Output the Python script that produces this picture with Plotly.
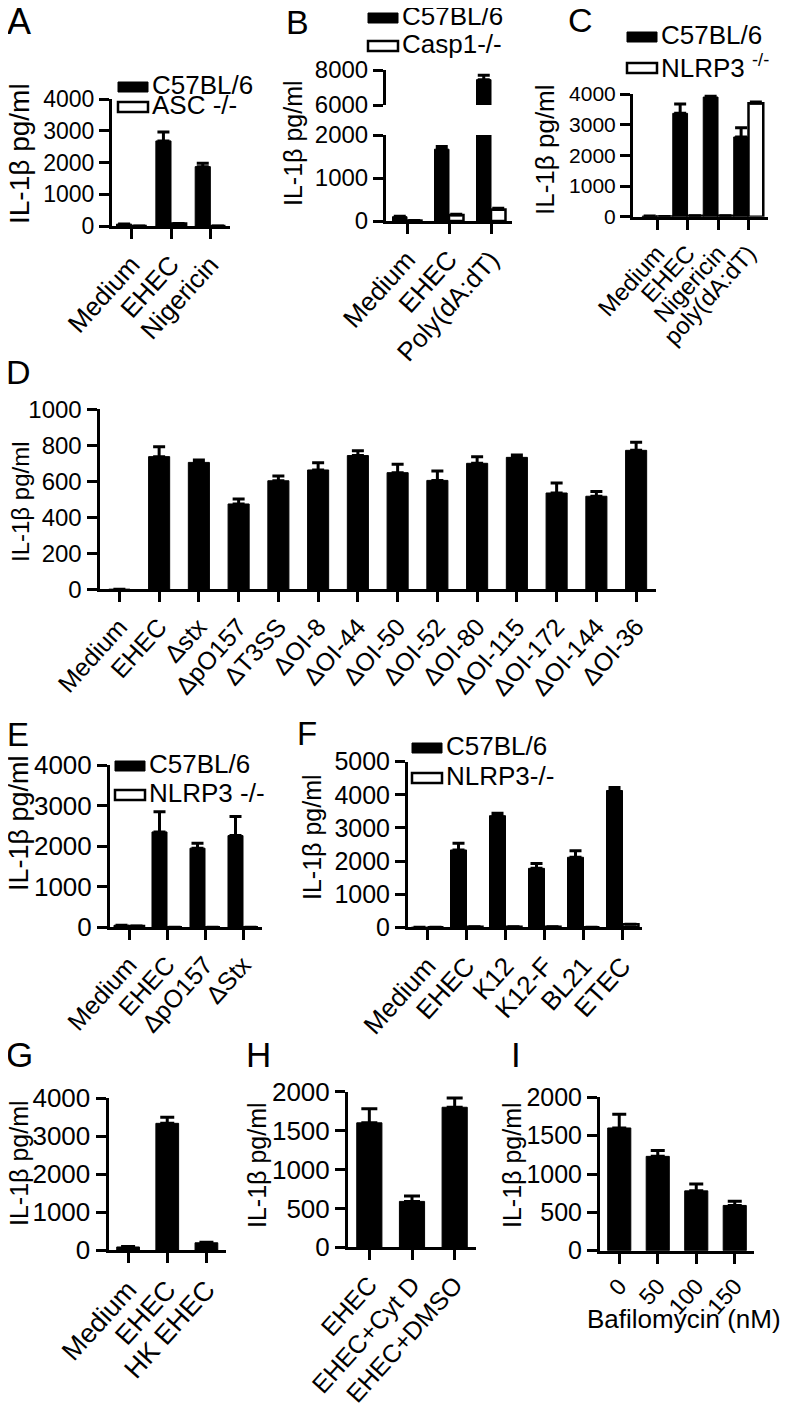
import plotly.graph_objects as go

# page body has an 8px margin: size and place the figure so that
# reference pixel (x, y) lands on page pixel (x, y)
OFF = 8
W, H = 796 - OFF, 1406 - OFF
FONT = "Liberation Sans, Arial, Helvetica, sans-serif"

# ---------------- data ----------------
A_cats = ["Medium", "EHEC", "Nigericin"]
A_wt = [60, 2680, 1870]
A_wt_err = [0, 280, 110]
A_ko = [0, 80, 0]
A_ko_err = [0, 0, 0]

B_cats = ["Medium", "EHEC", "Poly(dA:dT)"]
B_wt = [100, 1670, 7450]
B_wt_err = [10, 60, 250]
B_ko = [10, 140, 270]
B_ko_err = [0, 15, 25]

C_cats = ["Medium", "EHEC", "Nigericin", "poly(dA:dT)"]
C_wt = [20, 3370, 3900, 2600]
C_wt_err = [0, 300, 30, 300]
C_ko = [10, 30, 30, 3700]
C_ko_err = [0, 0, 0, 40]

D_cats = ["Medium", "EHEC", "Δstx", "ΔpO157", "ΔT3SS", "ΔOI-8", "ΔOI-44",
          "ΔOI-50", "ΔOI-52", "ΔOI-80", "ΔOI-115", "ΔOI-172", "ΔOI-144", "ΔOI-36"]
D_vals = [0, 737, 705, 474, 603, 663, 743, 648, 605, 700, 733, 535, 517, 772]
D_err = [0, 55, 13, 28, 27, 40, 27, 47, 52, 37, 13, 55, 26, 45]

E_cats = ["Medium", "EHEC", "ΔpO157", "ΔStx"]
E_wt = [50, 2350, 1950, 2260]
E_wt_err = [0, 500, 120, 470]
E_ko = [30, 0, 0, 0]
E_ko_err = [0, 0, 0, 0]

F_cats = ["Medium", "EHEC", "K12", "K12-F", "BL21", "ETEC"]
F_wt = [0, 2335, 3370, 1780, 2115, 4130]
F_wt_err = [0, 200, 70, 150, 200, 90]
F_ko = [0, 15, 20, 20, 0, 90]
F_ko_err = [0, 0, 0, 0, 0, 0]

G_cats = ["Medium", "EHEC", "HK EHEC"]
G_vals = [80, 3340, 190]
G_err = [10, 160, 15]

H_cats = ["EHEC", "EHEC+Cyt D", "EHEC+DMSO"]
H_vals = [1600, 590, 1800]
H_err = [180, 70, 120]

I_cats = ["0", "50", "100", "150"]
I_vals = [1600, 1230, 780, 590]
I_err = [180, 75, 90, 55]

YLABEL = "IL-1β pg/ml"

# ---------------- helpers ----------------
def fx(x):
    return (x - OFF) / W


def fy(y):
    return 1 - (y - OFF) / H


fig = go.Figure()
layout = dict(
    width=W, height=H, margin=dict(l=0, r=0, t=0, b=0, autoexpand=False),
    autosize=False,
    paper_bgcolor="white", plot_bgcolor="white",
    showlegend=False, barmode="overlay",
    font=dict(family=FONT, color="black"),
    shapes=[], annotations=[],
)

ANGLE = -48


def base_axis():
    return dict(showline=True, linewidth=3, linecolor="black", mirror=False,
                ticks="outside", ticklen=10, tickwidth=3, tickcolor="black",
                showgrid=False, zeroline=False, fixedrange=True, automargin=False)


def add_axes(n, xdom, ydom, xrange, yrange, cats, yticks, xfont, yfont,
             xvisible=True, tickangle=ANGLE):
    xname = "xaxis" if n == 1 else f"xaxis{n}"
    yname = "yaxis" if n == 1 else f"yaxis{n}"
    xa = base_axis()
    xa.update(domain=[fx(xdom[0]), fx(xdom[1])], range=xrange,
              anchor=f"y{n}" if n > 1 else "y",
              tickmode="array", tickvals=list(range(len(cats))), ticktext=cats,
              tickangle=tickangle, tickfont=dict(size=xfont, family=FONT, color="black"))
    if not xvisible:
        xa = dict(domain=[fx(xdom[0]), fx(xdom[1])], range=xrange, visible=False,
                  anchor=f"y{n}", fixedrange=True, automargin=False)
    ya = base_axis()
    ya.update(domain=[fy(ydom[1]), fy(ydom[0])], range=yrange,
              anchor=f"x{n}" if n > 1 else "x",
              tickmode="array", tickvals=yticks, ticktext=[str(t) for t in yticks],
              tickfont=dict(size=yfont, family=FONT, color="black"))
    layout[xname] = xa
    layout[yname] = ya


def err(arr, cap):
    return dict(type="data", array=arr, arrayminus=[0] * len(arr), symmetric=False,
                color="black", thickness=3, width=cap)


def add_pair(n, cats, wt, wt_err, ko, ko_err, w, cap=6, ko_trace=True):
    ax = "x" if n == 1 else f"x{n}"
    ay = "y" if n == 1 else f"y{n}"
    pos = list(range(len(cats)))
    fig.add_trace(go.Bar(
        x=[p - w / 2 for p in pos], y=wt, width=w, xaxis=ax, yaxis=ay,
        marker=dict(color="black", line=dict(color="black", width=1)),
        error_y=err(wt_err, cap), name="C57BL/6", hovertext=cats))
    if ko_trace:
        fig.add_trace(go.Bar(
            x=[p + w / 2 for p in pos], y=ko, width=w, xaxis=ax, yaxis=ay,
            marker=dict(color="white", line=dict(color="black", width=2.5)),
            error_y=err(ko_err, cap), name="KO", hovertext=cats))


def add_single(n, cats, vals, errs, w, cap=7):
    ax = f"x{n}"
    ay = f"y{n}"
    fig.add_trace(go.Bar(
        x=list(range(len(cats))), y=vals, width=w, xaxis=ax, yaxis=ay,
        marker=dict(color="black", line=dict(color="black", width=1)),
        error_y=err(errs, cap), hovertext=cats))


def text(x, y, s, size, anchor="left", angle=0):
    dy = 0 if angle else 0.06 * size
    layout["annotations"].append(dict(
        x=fx(x), y=fy(y - dy), xref="paper", yref="paper", text=s, showarrow=False,
        xanchor=anchor, yanchor="middle", textangle=angle,
        font=dict(size=size, family=FONT, color="black")))


def swatch(x0, x1, y0, y1, filled):
    layout["shapes"].append(dict(
        type="rect", xref="paper", yref="paper",
        x0=fx(x0), x1=fx(x1), y0=fy(y1), y1=fy(y0),
        fillcolor="black" if filled else "white",
        line=dict(color="black", width=1 if filled else 2.5)))


def legend(x0, y_top, y_bot, label1, label2, size=26):
    swatch(x0, x0 + 30, y_top - 5, y_top + 5, True)
    swatch(x0, x0 + 30, y_bot - 5, y_bot + 5, False)
    text(x0 + 32, y_top, label1, size)
    text(x0 + 32, y_bot, label2, size)


# ---------------- panel A ----------------
add_axes(1, (112, 230), (99, 226), [-0.5, 2.5], [0, 4000], A_cats,
         [0, 1000, 2000, 3000, 4000], 26, 23)
add_pair(1, A_cats, A_wt, A_wt_err, A_ko, A_ko_err, 0.385)
legend(118, 87, 107, "C57BL/6", "ASC -/-")
text(19, 24, "A", 36, "center")
text(19, 154, YLABEL, 28, "center", -90)

# ---------------- panel B (broken axis) ----------------
add_axes(2, (386, 512), (135, 221), [-0.5, 2.5], [0, 2000], B_cats,
         [0, 1000, 2000], 26, 24)
add_axes(3, (386, 512), (70, 105), [-0.5, 2.5], [6000, 8000], B_cats,
         [6000, 8000], 26, 24, xvisible=False)
add_pair(2, B_cats, B_wt, B_wt_err, B_ko, B_ko_err, 0.345)
add_pair(3, B_cats, B_wt, B_wt_err, B_ko, B_ko_err, 0.345, ko_trace=False)
legend(368, 18, 46, "C57BL/6", "Casp1-/-")
text(297, 24, "B", 34, "center")
text(293, 143, YLABEL, 25, "center", -90)

# ---------------- panel C ----------------
add_axes(4, (633, 768), (94, 216.7), [-0.79, 3.64], [0, 4000], C_cats,
         [0, 1000, 2000, 3000, 4000], 24, 21)
add_pair(4, C_cats, C_wt, C_wt_err, C_ko, C_ko_err, 0.485)
legend(627, 37, 68, "C57BL/6", "NLRP3 <sup>-/-</sup>")
text(580, 22, "C", 34, "center")
text(545, 150, YLABEL, 26, "center", -90)

# ---------------- panel D ----------------
add_axes(5, (99.5, 656), (409.3, 589.3), [-0.5, 13.5], [0, 1000], D_cats,
         [0, 200, 400, 600, 800, 1000], 25, 24)
add_single(5, D_cats, D_vals, D_err, 0.53, cap=6)
text(18, 374, "D", 34, "center")
text(21, 502, YLABEL, 24, "center", -90)

# ---------------- panel E ----------------
add_axes(6, (110, 262), (765, 927.3), [-0.5, 3.5], [0, 4000], E_cats,
         [0, 1000, 2000, 3000, 4000], 25, 26)
add_pair(6, E_cats, E_wt, E_wt_err, E_ko, E_ko_err, 0.395)
legend(115, 766, 795, "C57BL/6", "NLRP3 -/-")
text(18, 736, "E", 33, "center")
text(19, 823, YLABEL, 27, "center", -90)

# ---------------- panel F ----------------
add_axes(7, (408, 642), (761.7, 927.3), [-0.5, 5.5], [0, 5000], F_cats,
         [0, 1000, 2000, 3000, 4000, 5000], 26, 25)
add_pair(7, F_cats, F_wt, F_wt_err, F_ko, F_ko_err, 0.41)
legend(412, 748, 778, "C57BL/6", "NLRP3-/-")
text(307, 735, "F", 33, "center")
text(312, 837, YLABEL, 25, "center", -90)

# ---------------- panel G ----------------
add_axes(8, (108.5, 226), (1098.3, 1250), [-0.5, 2.5], [0, 4000], G_cats,
         [0, 1000, 2000, 3000, 4000], 27, 26)
add_single(8, G_cats, G_vals, G_err, 0.58)
text(19, 1057, "G", 35, "center")
text(19, 1163, YLABEL, 25, "center", -90)

# ---------------- panel H ----------------
add_axes(9, (348, 476), (1091.7, 1247.3), [-0.5, 2.5], [0, 2000], H_cats,
         [0, 500, 1000, 1500, 2000], 25, 26)
add_single(9, H_cats, H_vals, H_err, 0.59, cap=8)
text(258, 1057, "H", 35, "center")
text(257, 1165, YLABEL, 25, "center", -90)

# ---------------- panel I ----------------
add_axes(10, (600, 754), (1097.3, 1250.7), [-0.5, 3.5], [0, 2000], I_cats,
         [0, 500, 1000, 1500, 2000], 23, 25)
add_single(10, I_cats, I_vals, I_err, 0.6)
text(516, 1057, "I", 35, "center")
text(512, 1165, YLABEL, 25, "center", -90)
text(684, 1321, "Bafilomycin (nM)", 26, "center")

fig.update_layout(**layout)
fig.write_html("out.html")
